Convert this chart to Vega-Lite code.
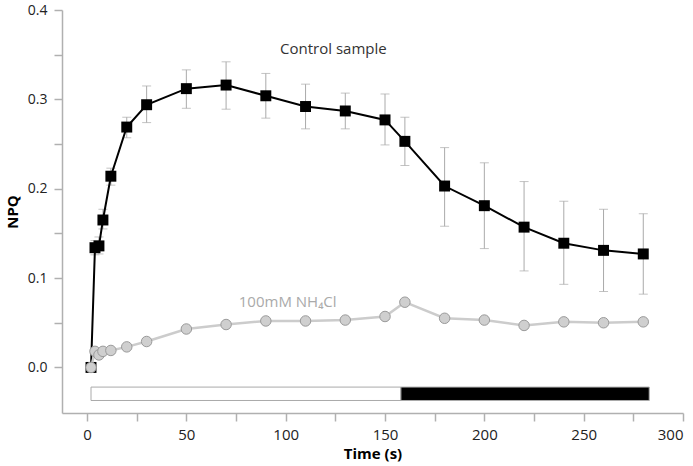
{
  "$schema": "https://vega.github.io/schema/vega-lite/v6.json",
  "autosize": "none",
  "width": 621,
  "height": 403,
  "padding": {"left": 62, "top": 10, "right": 10, "bottom": 53},
  "config": {
    "view": {"stroke": null},
    "font": "Open Sans",
    "axis": {
      "domainColor": "#b0b0b0", "domainWidth": 1.5,
      "tickColor": "#b0b0b0", "tickWidth": 1.5, "tickSize": 8,
      "grid": false, "labelFontSize": 15, "labelColor": "#222",
      "titleFontSize": 15, "titleFontWeight": "bold", "titleColor": "#000",
      "labelFont": "Open Sans", "titleFont": "Open Sans"
    }
  },
  "datasets": {
    "npq": [
      {"series": "Control sample", "t": 2, "npq": 0.0, "lo": 0.0, "hi": 0.0},
      {"series": "Control sample", "t": 4, "npq": 0.134, "lo": 0.126, "hi": 0.142},
      {"series": "Control sample", "t": 6, "npq": 0.136, "lo": 0.127, "hi": 0.146},
      {"series": "Control sample", "t": 8, "npq": 0.165, "lo": 0.155, "hi": 0.177},
      {"series": "Control sample", "t": 12, "npq": 0.214, "lo": 0.204, "hi": 0.223},
      {"series": "Control sample", "t": 20, "npq": 0.269, "lo": 0.257, "hi": 0.280},
      {"series": "Control sample", "t": 30, "npq": 0.294, "lo": 0.274, "hi": 0.315},
      {"series": "Control sample", "t": 50, "npq": 0.312, "lo": 0.290, "hi": 0.333},
      {"series": "Control sample", "t": 70, "npq": 0.316, "lo": 0.289, "hi": 0.342},
      {"series": "Control sample", "t": 90, "npq": 0.304, "lo": 0.279, "hi": 0.329},
      {"series": "Control sample", "t": 110, "npq": 0.292, "lo": 0.267, "hi": 0.317},
      {"series": "Control sample", "t": 130, "npq": 0.287, "lo": 0.267, "hi": 0.307},
      {"series": "Control sample", "t": 150, "npq": 0.277, "lo": 0.249, "hi": 0.306},
      {"series": "Control sample", "t": 160, "npq": 0.253, "lo": 0.226, "hi": 0.280},
      {"series": "Control sample", "t": 180, "npq": 0.203, "lo": 0.158, "hi": 0.246},
      {"series": "Control sample", "t": 200, "npq": 0.181, "lo": 0.133, "hi": 0.229},
      {"series": "Control sample", "t": 220, "npq": 0.157, "lo": 0.108, "hi": 0.208},
      {"series": "Control sample", "t": 240, "npq": 0.139, "lo": 0.093, "hi": 0.186},
      {"series": "Control sample", "t": 260, "npq": 0.131, "lo": 0.085, "hi": 0.177},
      {"series": "Control sample", "t": 280, "npq": 0.127, "lo": 0.082, "hi": 0.172},
      {"series": "NH4Cl", "t": 2, "npq": 0.0},
      {"series": "NH4Cl", "t": 4, "npq": 0.018},
      {"series": "NH4Cl", "t": 6, "npq": 0.014},
      {"series": "NH4Cl", "t": 8, "npq": 0.018},
      {"series": "NH4Cl", "t": 12, "npq": 0.019},
      {"series": "NH4Cl", "t": 20, "npq": 0.023},
      {"series": "NH4Cl", "t": 30, "npq": 0.029},
      {"series": "NH4Cl", "t": 50, "npq": 0.043},
      {"series": "NH4Cl", "t": 70, "npq": 0.048},
      {"series": "NH4Cl", "t": 90, "npq": 0.052},
      {"series": "NH4Cl", "t": 110, "npq": 0.052},
      {"series": "NH4Cl", "t": 130, "npq": 0.053},
      {"series": "NH4Cl", "t": 150, "npq": 0.057},
      {"series": "NH4Cl", "t": 160, "npq": 0.073},
      {"series": "NH4Cl", "t": 180, "npq": 0.055},
      {"series": "NH4Cl", "t": 200, "npq": 0.053},
      {"series": "NH4Cl", "t": 220, "npq": 0.047},
      {"series": "NH4Cl", "t": 240, "npq": 0.051},
      {"series": "NH4Cl", "t": 260, "npq": 0.050},
      {"series": "NH4Cl", "t": 280, "npq": 0.051}
    ],
    "light": [
      {"phase": "light", "start": 2, "end": 158},
      {"phase": "dark", "start": 158, "end": 283}
    ],
    "labels": [
      {"text": "Control sample", "t": 124, "npq": 0.356, "kind": "control"},
      {"text": "100mM NH₄Cl", "t": 101, "npq": 0.073, "kind": "nh4"}
    ]
  },
  "layer": [
    {
      "data": {"name": "light"},
      "mark": {"type": "rect", "stroke": "#aaaaaa", "strokeWidth": 1},
      "encoding": {
        "x": {"field": "start", "type": "quantitative",
          "scale": {"domain": [-12.6, 300], "nice": false, "zero": false},
          "axis": {"title": "Time (s)", "values": [0, 25, 50, 75, 100, 125, 150, 175, 200, 225, 250, 275, 300],
            "labelExpr": "datum.value % 50 == 0 ? datum.label : ''", "labelPadding": 6, "titlePadding": 4, "labelOverlap": false, "labelBound": false}},
        "x2": {"field": "end"},
        "y": {"datum": -0.022, "type": "quantitative",
          "scale": {"domain": [-0.051, 0.4], "nice": false, "zero": false},
          "axis": {"title": "NPQ", "values": [0, 0.05, 0.1, 0.15, 0.2, 0.25, 0.3, 0.35, 0.4], "labelFontSize": 14,
            "labelExpr": "abs(datum.value*10 - round(datum.value*10)) < 0.001 ? format(datum.value, '.1f') : ''",
            "labelPadding": 7, "titlePadding": 7, "labelOverlap": false}},
        "y2": {"datum": -0.037},
        "fill": {"field": "phase", "type": "nominal", "scale": {"domain": ["light", "dark"], "range": ["#ffffff", "#000000"]}, "legend": null}
      }
    },
    {
      "data": {"name": "npq"},
      "transform": [{"filter": "datum.series == 'Control sample' && datum.t > 2"}],
      "mark": {"type": "errorbar", "ticks": {"size": 9, "color": "#aaaaaa"}, "rule": {"color": "#aaaaaa", "strokeWidth": 1}},
      "encoding": {
        "x": {"field": "t", "type": "quantitative", "title": "Time (s)"},
        "y": {"field": "lo", "type": "quantitative", "title": "NPQ"},
        "y2": {"field": "hi"}
      }
    },
    {
      "data": {"name": "npq"},
      "transform": [{"filter": "datum.series == 'Control sample'"}],
      "mark": {"type": "line", "color": "#000000", "strokeWidth": 2},
      "encoding": {
        "x": {"field": "t", "type": "quantitative", "title": "Time (s)"},
        "y": {"field": "npq", "type": "quantitative", "title": "NPQ"}
      }
    },
    {
      "data": {"name": "npq"},
      "transform": [{"filter": "datum.series == 'Control sample'"}],
      "mark": {"type": "point", "shape": "square", "filled": true, "color": "#000000", "size": 120, "opacity": 1},
      "encoding": {
        "x": {"field": "t", "type": "quantitative", "title": "Time (s)"},
        "y": {"field": "npq", "type": "quantitative", "title": "NPQ"}
      }
    },
    {
      "data": {"name": "npq"},
      "transform": [{"filter": "datum.series == 'NH4Cl'"}],
      "mark": {"type": "line", "color": "#cccccc", "strokeWidth": 2.5},
      "encoding": {
        "x": {"field": "t", "type": "quantitative", "title": "Time (s)"},
        "y": {"field": "npq", "type": "quantitative", "title": "NPQ"}
      }
    },
    {
      "data": {"name": "npq"},
      "transform": [{"filter": "datum.series == 'NH4Cl'"}],
      "mark": {"type": "point", "shape": "circle", "filled": true, "fill": "#cfcfcf", "stroke": "#9a9a9a", "strokeWidth": 1, "size": 110, "opacity": 1},
      "encoding": {
        "x": {"field": "t", "type": "quantitative", "title": "Time (s)"},
        "y": {"field": "npq", "type": "quantitative", "title": "NPQ"}
      }
    },
    {
      "data": {"name": "labels"},
      "mark": {"type": "text", "fontSize": 15, "font": "Open Sans", "align": "center", "baseline": "middle"},
      "encoding": {
        "x": {"field": "t", "type": "quantitative", "title": "Time (s)"},
        "y": {"field": "npq", "type": "quantitative", "title": "NPQ"},
        "text": {"field": "text"},
        "color": {"field": "kind", "type": "nominal", "scale": {"domain": ["control", "nh4"], "range": ["#333333", "#aaaaaa"]}, "legend": null}
      }
    }
  ]
}
